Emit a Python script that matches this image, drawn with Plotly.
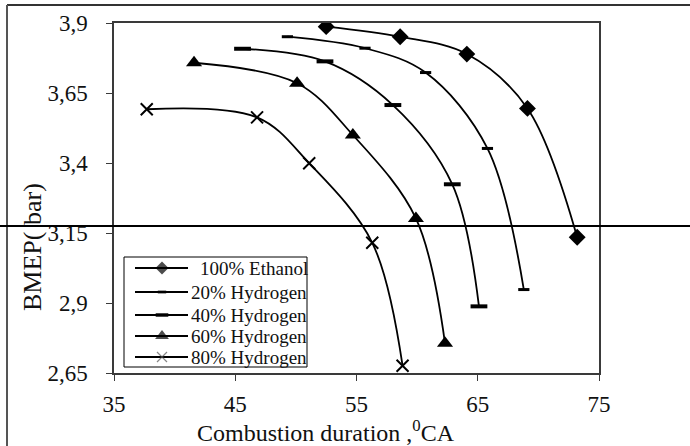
import plotly.graph_objects as go

# Combustion duration (°CA) and BMEP (bar) for each fuel blend
series_names = ["100% Ethanol", "20% Hydrogen", "40% Hydrogen", "60% Hydrogen", "80% Hydrogen"]
ethanol_x = [52.5, 58.6, 64.1, 69.1, 73.2]
ethanol_y = [3.887, 3.851, 3.789, 3.595, 3.135]
h20_x = [49.3, 55.7, 60.7, 65.8, 68.8]
h20_y = [3.851, 3.81, 3.723, 3.452, 2.948]
h40_x = [45.6, 52.4, 58.0, 62.9, 65.1]
h40_y = [3.808, 3.763, 3.607, 3.324, 2.888]
h60_x = [41.6, 50.1, 54.7, 59.9, 62.3]
h60_y = [3.758, 3.685, 3.5, 3.202, 2.756]
h80_x = [37.7, 46.8, 51.1, 56.3, 58.8]
h80_y = [3.592, 3.563, 3.399, 3.115, 2.676]

x_ticks = [35, 45, 55, 65, 75]
y_ticks = [2.65, 2.9, 3.15, 3.4, 3.65, 3.9]
y_tick_text = ["2,65", "2,9", "3,15", "3,4", "3,65", "3,9"]

FONT = "Liberation Serif"
INK = "#000000"
TEXT = "#111111"

# Plot area in pixels (figure is 690 x 446)
L, R, T, B = 114, 599, 23, 373


def px(xp):
    return (xp - L) / (R - L)


def py(yp):
    return (B - yp) / (B - T)


plot_styles = [
    dict(symbol="diamond", size=13, line=dict(width=0)),
    dict(symbol="line-ew", size=8, line=dict(width=3, color=INK)),
    dict(symbol="line-ew", size=12, line=dict(width=4, color=INK)),
    dict(symbol="triangle-up", size=14, line=dict(width=0)),
    dict(symbol="x-thin", size=12, line=dict(width=2, color=INK)),
]
key_styles = [
    dict(symbol="diamond", size=10, line=dict(width=0)),
    dict(symbol="line-ew", size=6, line=dict(width=3, color=INK)),
    dict(symbol="line-ew", size=9, line=dict(width=4, color=INK)),
    dict(symbol="triangle-up", size=12, line=dict(width=0)),
    dict(symbol="x-thin", size=10, line=dict(width=1.2, color="#555555")),
]
data = [(ethanol_x, ethanol_y), (h20_x, h20_y), (h40_x, h40_y), (h60_x, h60_y), (h80_x, h80_y)]

fig = go.Figure()
for name, (xs, ys), st in zip(series_names, data, plot_styles):
    fig.add_trace(go.Scatter(
        x=xs, y=ys, name=name, mode="lines+markers", showlegend=False,
        line=dict(color=INK, width=1.8, shape="spline", smoothing=1.0),
        marker=dict(color=INK, **st),
    ))

# Boxed key in the lower-left corner, drawn on an overlay axis spanning the plot area
key_rows = [268, 292, 315, 336, 357]
key_line = (135, 162, 188)
key_text_x = [198, 189, 189, 189, 189]
fig.add_shape(type="rect", xref="paper", yref="paper",
              x0=px(124), x1=px(307), y0=py(367), y1=py(257),
              line=dict(color=INK, width=1), fillcolor="white", layer="below")
for name, st, row, tx in zip(series_names, key_styles, key_rows, key_text_x):
    mk = dict(st, size=[0, st["size"], 0])
    fig.add_trace(go.Scatter(
        x=[px(v) for v in key_line], y=[py(row)] * 3, xaxis="x2", yaxis="y2",
        mode="lines+markers", showlegend=False, hoverinfo="skip",
        line=dict(color=INK, width=2.2),
        marker=dict(color=INK, **mk),
    ))
    fig.add_annotation(xref="paper", yref="paper", x=px(tx), y=py(row),
                       xanchor="left", yanchor="middle", text=name, showarrow=False,
                       font=dict(family=FONT, size=19, color=TEXT))

ax_common = dict(
    showgrid=False, zeroline=False, showline=True, mirror=True,
    linecolor="#3a3a3a", linewidth=1.5,
    ticks="outside", ticklen=6, tickcolor="#3a3a3a", tickwidth=1,
    tickfont=dict(family=FONT, size=23, color=TEXT),
)

fig.update_layout(
    width=690, height=446,
    margin=dict(l=L, r=690 - R, t=T, b=446 - B),
    paper_bgcolor="white", plot_bgcolor="white",
    font=dict(family=FONT, color=TEXT),
    showlegend=False,
    xaxis=dict(range=[35, 75], tickvals=x_ticks, ticktext=[str(v) for v in x_ticks],
               ticklabelstandoff=4, **ax_common),
    yaxis=dict(range=[2.65, 3.9], tickvals=y_ticks, ticktext=y_tick_text,
               ticklabelstandoff=14, **ax_common),
    xaxis2=dict(range=[0, 1], overlaying="x", anchor="y2", visible=False, fixedrange=True),
    yaxis2=dict(range=[0, 1], overlaying="y", anchor="x2", visible=False, fixedrange=True),
)

# Axis titles
fig.add_annotation(xref="paper", yref="paper", x=px(326), y=py(431),
                   xanchor="center", yanchor="middle",
                   text="Combustion duration ,<sup>0</sup>CA", showarrow=False,
                   font=dict(family=FONT, size=24, color=TEXT))
fig.add_annotation(xref="paper", yref="paper", x=px(32), y=py(247),
                   xanchor="center", yanchor="middle",
                   text="BMEP( bar)", showarrow=False, textangle=-90,
                   font=dict(family=FONT, size=26, color=TEXT))

# Frame lines of the page: top, left and a horizontal rule across the figure
fig.add_shape(type="line", xref="paper", yref="paper",
              x0=px(7), x1=px(690), y0=py(5), y1=py(5),
              line=dict(color="#333", width=2))
fig.add_shape(type="line", xref="paper", yref="paper",
              x0=px(7), x1=px(7), y0=py(5), y1=py(446),
              line=dict(color="#555", width=2))
fig.add_shape(type="line", xref="paper", yref="paper",
              x0=px(0), x1=px(690), y0=py(226), y1=py(226),
              line=dict(color=INK, width=2))

fig.write_html("out.html")
